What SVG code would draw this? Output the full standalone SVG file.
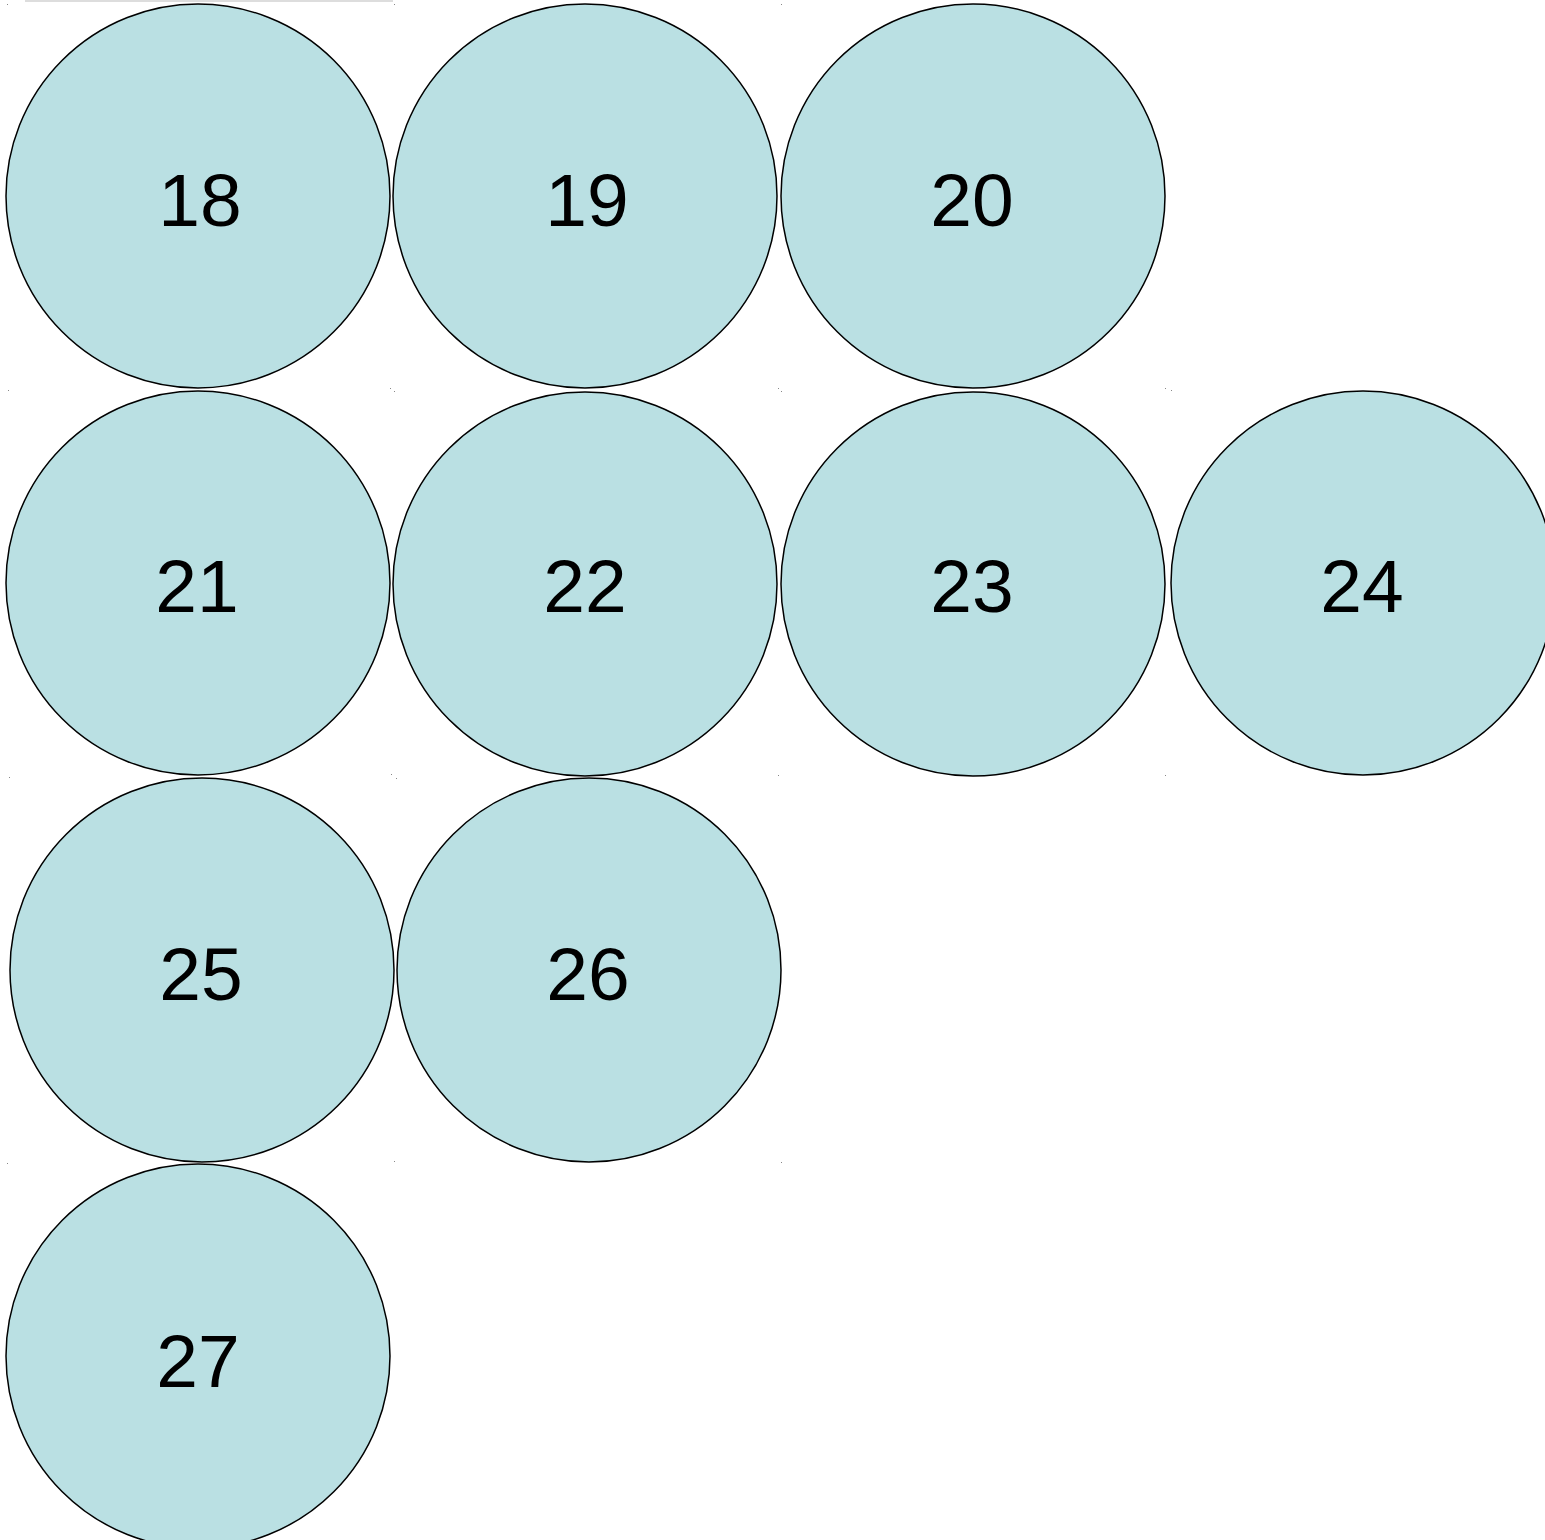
<svg xmlns="http://www.w3.org/2000/svg" width="1545" height="1540" viewBox="0 0 1545 1540">
<style>
.n circle{fill:#bae0e3;stroke:#000;stroke-width:1.5}
.n text{font-family:"Liberation Sans",Arial,sans-serif;font-size:75px;fill:#000;text-anchor:middle}
.d{fill:#888}
</style>
<rect width="1545" height="1540" fill="#fff"/>
<line x1="25" y1="1" x2="393" y2="1" stroke="#bbb" stroke-width="1"/>
<g id="marks">
<rect class="d" x="7" y="4" width="1" height="1"/><rect class="d" x="394" y="4" width="1" height="1"/><rect class="d" x="781" y="4" width="1" height="1"/>
<rect class="d" x="8" y="390" width="1" height="1"/><rect class="d" x="390" y="388" width="1" height="1"/><rect class="d" x="394" y="391" width="1" height="1"/>
<rect class="d" x="778" y="388" width="1" height="1"/><rect class="d" x="781" y="391" width="1" height="1"/><rect class="d" x="1165" y="388" width="1" height="1"/><rect class="d" x="1171" y="390" width="1" height="1"/>
<rect class="d" x="9" y="777" width="1" height="1"/><rect class="d" x="391" y="774" width="1" height="1"/><rect class="d" x="396" y="778" width="1" height="1"/><rect class="d" x="778" y="775" width="1" height="1"/><rect class="d" x="1165" y="775" width="1" height="1"/>
<rect class="d" x="7" y="1163" width="1" height="1"/><rect class="d" x="394" y="1161" width="1" height="1"/><rect class="d" x="781" y="1162" width="1" height="1"/>
</g>
<g id="connectors"></g>
<g id="n18" class="n"><circle cx="198" cy="196" r="192"/><text x="200" y="226">18</text></g>
<g id="n19" class="n"><circle cx="585" cy="196" r="192"/><text x="587" y="226">19</text></g>
<g id="n20" class="n"><circle cx="973" cy="196" r="192"/><text x="972" y="226">20</text></g>
<g id="n21" class="n"><circle cx="198" cy="583" r="192"/><text x="197" y="612">21</text></g>
<g id="n22" class="n"><circle cx="585" cy="584" r="192"/><text x="585" y="612">22</text></g>
<g id="n23" class="n"><circle cx="973" cy="584" r="192"/><text x="972" y="612">23</text></g>
<g id="n24" class="n"><circle cx="1363" cy="583" r="192"/><text x="1362" y="612">24</text></g>
<g id="n25" class="n"><circle cx="202" cy="970" r="192"/><text x="201" y="1000">25</text></g>
<g id="n26" class="n"><circle cx="589" cy="970" r="192"/><text x="588" y="1000">26</text></g>
<g id="n27" class="n"><circle cx="198" cy="1356" r="192"/><text x="198" y="1387">27</text></g>
</svg>
